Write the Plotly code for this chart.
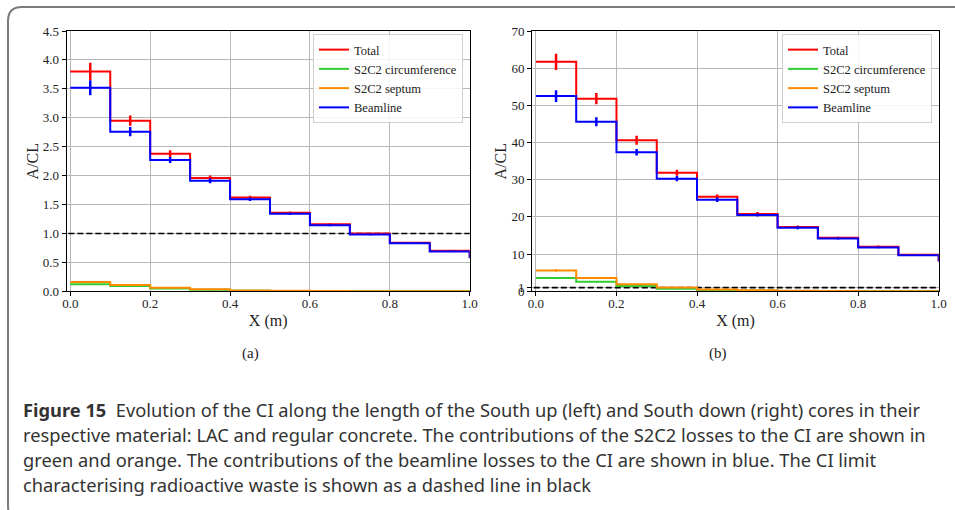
import plotly.graph_objects as go

# ---------------- data ----------------
bin_edges = [0.0, 0.1, 0.2, 0.3, 0.4, 0.5, 0.6, 0.7, 0.8, 0.9, 1.0]
bin_centers = [0.05, 0.15, 0.25, 0.35, 0.45, 0.55, 0.65, 0.75, 0.85, 0.95]

# (a) South up core, LAC
a_total = [3.80, 2.95, 2.38, 1.96, 1.62, 1.36, 1.16, 1.00, 0.84, 0.70, 0.58]
a_total_err = [0.15, 0.09, 0.06, 0.04, 0.03, 0.02, 0.015, 0.01, 0.01, 0.01]
a_circ = [0.12, 0.09, 0.05, 0.025, 0.01, 0.005, 0.003, 0.002, 0.001, 0.001, 0.001]
a_circ_err = [0.01, 0.008, 0.005, 0.003, 0.002, 0.001, 0.001, 0.001, 0.001, 0.001]
a_sept = [0.16, 0.11, 0.06, 0.035, 0.015, 0.008, 0.004, 0.002, 0.001, 0.001, 0.001]
a_sept_err = [0.012, 0.009, 0.006, 0.004, 0.002, 0.001, 0.001, 0.001, 0.001, 0.001]
a_beam = [3.52, 2.76, 2.27, 1.91, 1.59, 1.34, 1.14, 0.98, 0.83, 0.69, 0.57]
a_beam_err = [0.13, 0.08, 0.05, 0.04, 0.03, 0.02, 0.015, 0.01, 0.01, 0.01]

# (b) South down core, regular concrete
b_total = [61.7, 51.8, 40.6, 31.9, 25.4, 20.8, 17.3, 14.4, 12.0, 9.8, 8.0]
b_total_err = [2.2, 1.5, 1.2, 0.8, 0.6, 0.5, 0.4, 0.3, 0.3, 0.2]
b_circ = [3.6, 2.6, 1.4, 0.7, 0.3, 0.15, 0.08, 0.05, 0.03, 0.02, 0.01]
b_circ_err = [0.2, 0.15, 0.1, 0.06, 0.04, 0.02, 0.01, 0.01, 0.01, 0.01]
b_sept = [5.6, 3.6, 1.9, 1.0, 0.5, 0.25, 0.12, 0.06, 0.03, 0.02, 0.01]
b_sept_err = [0.3, 0.2, 0.12, 0.08, 0.05, 0.03, 0.02, 0.01, 0.01, 0.01]
b_beam = [52.5, 45.6, 37.4, 30.3, 24.6, 20.5, 17.1, 14.2, 11.8, 9.7, 8.0]
b_beam_err = [1.6, 1.2, 0.9, 0.7, 0.6, 0.4, 0.4, 0.3, 0.2, 0.2]

ci_limit = 1.0

series_names = ["Total", "S2C2 circumference", "S2C2 septum", "Beamline"]
series_colors = ["#ff0000", "#33cc33", "#ff8c00", "#0000ff"]

a_ticks = [0.0, 0.5, 1.0, 1.5, 2.0, 2.5, 3.0, 3.5, 4.0, 4.5]
b_ticks = [0, 1, 10, 20, 30, 40, 50, 60, 70]
x_ticks = [0.0, 0.2, 0.4, 0.6, 0.8, 1.0]

caption_lines = [
    "<b>Figure 15</b>&nbsp; Evolution of the CI along the length of the South up (left) and South down (right) cores in their",
    "respective material: LAC and regular concrete. The contributions of the S2C2 losses to the CI are shown in",
    "green and orange. The contributions of the beamline losses to the CI are shown in blue. The CI limit",
    "characterising radioactive waste is shown as a dashed line in black",
]

# ---------------- layout geometry ----------------
W, H = 955, 510
def px(x):
    return x / W
def py(y):
    return 1 - y / H

SERIF = "Liberation Serif, Times New Roman, serif"

fig = go.Figure()

panels = [
    ("x", "y", "legend", [(a_total, a_total_err), (a_circ, a_circ_err), (a_sept, a_sept_err), (a_beam, a_beam_err)]),
    ("x2", "y2", "legend2", [(b_total, b_total_err), (b_circ, b_circ_err), (b_sept, b_sept_err), (b_beam, b_beam_err)]),
]

for xa, ya, leg, data in panels:
    # dashed CI limit
    fig.add_trace(go.Scatter(x=[-0.05, 1.05], y=[ci_limit, ci_limit], mode="lines",
                             line=dict(color="black", width=1.6, dash="6px,3px"),
                             xaxis=xa, yaxis=ya, showlegend=False, hoverinfo="skip"))
    for (vals, errs), name, col in zip(data, series_names, series_colors):
        fig.add_trace(go.Scatter(x=bin_edges, y=vals, mode="lines", line_shape="hv",
                                 line=dict(color=col, width=2), name=name,
                                 xaxis=xa, yaxis=ya, legend=leg))
        fig.add_trace(go.Scatter(x=bin_centers, y=vals[:len(bin_centers)], mode="markers",
                                 marker=dict(size=1, color=col),
                                 error_y=dict(type="data", array=errs, color=col, thickness=2.5, width=0),
                                 xaxis=xa, yaxis=ya, showlegend=False, hoverinfo="skip"))

axis_common = dict(showline=True, mirror=True, linecolor="black", linewidth=1.3,
                   ticks="outside", ticklen=4, tickwidth=1, tickcolor="black",
                   showgrid=True, gridcolor="#b8b8b8", gridwidth=1, zeroline=False,
                   automargin=False,
                   tickfont=dict(family=SERIF, size=13, color="#222"))

xtitle = dict(text="X (m)", font=dict(family=SERIF, size=16, color="#222"), standoff=4)
ytitle = dict(text="A/CL", font=dict(family=SERIF, size=16, color="#222"), standoff=0)

ydom = [py(291.3), py(31)]
fig.update_layout(
    width=W, height=H, margin=dict(l=0, r=0, t=0, b=0, pad=0, autoexpand=False),
    paper_bgcolor="white", plot_bgcolor="white",
    xaxis=dict(domain=[px(66.7), px(469.7)], range=[-0.009, 1.0], tickvals=x_ticks,
               ticktext=[f"{v:.1f}" for v in x_ticks], anchor="y", ticklabelstandoff=-4,
               title=xtitle, **axis_common),
    yaxis=dict(domain=ydom, range=[0, 4.5], tickvals=a_ticks,
               ticktext=[f"{v:.1f}" for v in a_ticks], anchor="x",
               title=ytitle, **axis_common),
    xaxis2=dict(domain=[px(532.3), px(938.7)], range=[-0.009, 1.0], tickvals=x_ticks,
                ticktext=[f"{v:.1f}" for v in x_ticks], anchor="y2", ticklabelstandoff=-4,
                title=xtitle, **axis_common),
    yaxis2=dict(domain=ydom, range=[0, 70], tickvals=b_ticks,
                ticktext=[str(v) for v in b_ticks], anchor="x2",
                title=ytitle, **axis_common),
    legend=dict(x=px(463), y=py(34), xanchor="right", yanchor="top",
                bgcolor="rgba(255,255,255,0.85)", bordercolor="#d0d0d0", borderwidth=1,
                font=dict(family=SERIF, size=12.5, color="#222"), tracegroupgap=0),
    legend2=dict(x=px(932), y=py(34), xanchor="right", yanchor="top",
                 bgcolor="rgba(255,255,255,0.85)", bordercolor="#d0d0d0", borderwidth=1,
                 font=dict(family=SERIF, size=12.5, color="#222"), tracegroupgap=0),
)

# sub-figure labels
fig.add_annotation(text="(a)", x=px(250), y=py(353), xref="paper", yref="paper", showarrow=False,
                   xanchor="center", yanchor="middle",
                   font=dict(family=SERIF, size=15, color="#222"))
fig.add_annotation(text="(b)", x=px(718), y=py(353), xref="paper", yref="paper", showarrow=False,
                   xanchor="center", yanchor="middle",
                   font=dict(family=SERIF, size=15, color="#222"))

# caption
for i, line in enumerate(caption_lines):
    fig.add_annotation(text=line, x=px(21), y=py(409 + 25 * i), xref="paper", yref="paper",
                       xanchor="left", yanchor="middle", showarrow=False, align="left",
                       font=dict(family="Noto Sans, Open Sans, sans-serif", size=18.3, color="#333"))

# rounded frame around the figure (partly cut by the page edge)
x0, y0, x1, y1 = px(8), py(7), px(975), py(520)
rx, ry = px(14), 14 / H
path = (f"M {x0+rx},{y0} L {x1-rx},{y0} Q {x1},{y0} {x1},{y0-ry} L {x1},{y1+ry} "
        f"Q {x1},{y1} {x1-rx},{y1} L {x0+rx},{y1} Q {x0},{y1} {x0},{y1+ry} L {x0},{y0-ry} "
        f"Q {x0},{y0} {x0+rx},{y0} Z")
fig.add_shape(type="path", path=path, xref="paper", yref="paper",
              line=dict(color="#7a7a7a", width=2), layer="below")

fig.write_html("out.html")
